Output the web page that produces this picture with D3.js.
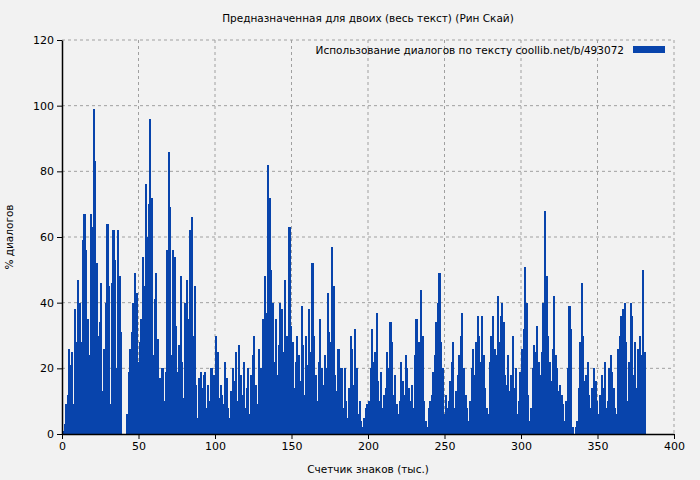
<!DOCTYPE html>
<html>
<head>
<meta charset="utf-8">
<script src="https://cdn.jsdelivr.net/npm/d3@7"></script>
<style>
  body { margin: 0; background: #f2f2f2; }
  text { font-family: "DejaVu Sans", sans-serif; font-size: 10.5px; fill: #000; }
</style>
</head>
<body>
<svg id="chart" width="700" height="480"></svg>
<script>
// % dialogue per thousand characters
const dialogShare = [
  1,3,9,12,26,21,25,9,38,28,47,40,28,59,67,56,35,24,67,63,
  99,83,52,30,34,46,13,26,40,64,45,9,46,62,53,20,62,48,31,0,
  0,0,6,19,26,31,40,49,43,22,28,35,54,45,76,60,70,96,72,24,
  41,49,29,17,14,20,10,19,56,86,69,24,56,54,33,19,27,48,22,11,
  40,47,35,62,66,30,45,15,5,17,19,14,18,19,8,15,10,20,4,18,
  30,25,11,15,12,9,22,17,8,5,13,20,16,25,10,27,18,12,22,8,
  14,20,6,18,24,30,15,9,26,20,12,35,48,37,82,72,50,40,22,35,
  18,27,40,38,25,47,30,20,63,33,28,14,22,30,24,16,39,27,12,30,
  21,38,25,52,30,18,10,22,35,20,15,24,20,43,31,28,57,45,18,13,
  26,12,20,8,20,10,5,14,30,26,15,32,20,6,10,4,2,5,8,9,
  10,20,32,22,25,37,16,10,19,8,12,14,25,20,34,28,12,18,9,6,
  10,22,16,12,24,20,14,10,15,8,24,35,20,28,44,30,10,4,2,8,
  10,12,19,24,34,40,49,28,20,6,12,8,10,16,22,28,8,13,18,24,
  30,37,20,12,8,4,10,20,26,18,28,36,30,22,36,24,14,8,6,22,
  30,36,26,24,42,28,36,40,34,18,15,24,13,18,30,14,20,6,10,19,
  26,32,51,40,12,4,8,20,27,25,33,22,18,25,40,68,48,30,22,16,
  26,42,24,20,13,15,12,9,4,10,20,39,32,2,0,2,4,14,28,46,
  30,16,18,22,12,8,14,20,16,10,6,12,18,14,22,8,10,20,24,19,
  14,8,6,26,30,36,38,40,28,10,
  22,40,36,18,28,14,26,30,24,50,25
];
const xTicks = [0, 50, 100, 150, 200, 250, 300, 350, 400];
const yTicks = [0, 20, 40, 60, 80, 100, 120];

const svg = d3.select("#chart");
const x = d3.scaleLinear().domain([0, 400]).range([62, 674]);
const y = d3.scaleLinear().domain([0, 120]).range([434, 40]);

// grid
svg.append("g").selectAll("line").data(xTicks.slice(1, -1)).join("line")
  .attr("x1", d => x(d)).attr("x2", d => x(d)).attr("y1", 40).attr("y2", 434)
  .attr("stroke", "#a0a0a0").attr("stroke-dasharray", "3,3");
svg.append("g").selectAll("line").data(yTicks.slice(1)).join("line")
  .attr("x1", 62).attr("x2", 674).attr("y1", d => y(d)).attr("y2", d => y(d))
  .attr("stroke", "#a0a0a0").attr("stroke-dasharray", "3,3");
svg.append("line").attr("x1", 674).attr("x2", 674).attr("y1", 40).attr("y2", 434)
  .attr("stroke", "#a0a0a0").attr("stroke-dasharray", "3,3");

// bars (no seams between neighbours)
const bw = x(1) - x(0);
svg.append("g").attr("shape-rendering", "crispEdges")
  .selectAll("rect").data(dialogShare).join("rect")
  .attr("x", (d, i) => x(i))
  .attr("width", bw + 0.6)
  .attr("y", d => y(d))
  .attr("height", d => y(0) - y(d))
  .attr("fill", "#0844ac");

// axes
svg.append("g").attr("transform", "translate(0,434)")
  .call(d3.axisBottom(x).tickValues(xTicks).tickSize(5).tickSizeOuter(0))
  .call(g => g.select(".domain").attr("stroke-width", 1.5));
svg.append("g").attr("transform", "translate(62,0)")
  .call(d3.axisLeft(y).tickValues(yTicks).tickSize(5).tickSizeOuter(0))
  .call(g => g.select(".domain").attr("stroke-width", 1.5));
svg.selectAll(".tick text").style("font-size", "11px").style("font-family", "DejaVu Sans, sans-serif");

// titles
svg.append("text").attr("x", 368).attr("y", 22).attr("text-anchor", "middle")
  .text("Предназначенная для двоих (весь текст) (Рин Скай)");
svg.append("text").attr("x", 368).attr("y", 473).attr("text-anchor", "middle")
  .text("Счетчик знаков (тыс.)");
svg.append("text").attr("transform", "translate(13,237) rotate(-90)").attr("text-anchor", "middle")
  .text("% диалогов");

// legend
svg.append("text").attr("x", 624).attr("y", 54).attr("text-anchor", "end")
  .text("Использование диалогов по тексту  coollib.net/b/493072");
svg.append("rect").attr("x", 633).attr("y", 46).attr("width", 32).attr("height", 7).attr("fill", "#0844ac");
</script>
</body>
</html>
